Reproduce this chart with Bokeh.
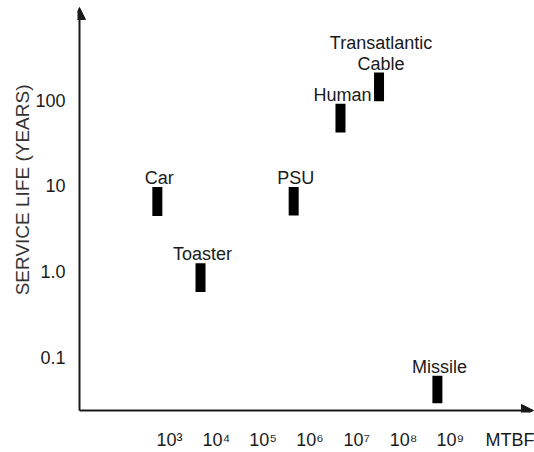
from bokeh.plotting import figure
from bokeh.models import FixedTicker, Arrow, NormalHead, ColumnDataSource, Range1d, Title
from bokeh.embed import file_html
from bokeh.resources import INLINE
from bokeh.core.properties import value

# ---- data ----
categories = ["Car", "Toaster", "PSU", "Human", "Transatlantic\nCable", "Missile"]
mtbf = [550, 4600, 4.5e5, 4.5e6, 3.0e7, 5.3e8]
life_low = [4.45, 0.58, 4.5, 42, 97, 0.029]
life_high = [9.7, 1.25, 9.7, 91, 210, 0.061]

x_tick_values = [10**3, 10**4, 10**5, 10**6, 10**7, 10**8, 10**9, 2.1e10]
x_tick_labels = ["10³", "10⁴", "10⁵", "10⁶", "10⁷", "10⁸", "10⁹", "MTBF"]
y_tick_values = [0.1, 1, 10, 100]
y_tick_labels = ["0.1", "1.0", "10", "100"]
y_title = "SERVICE LIFE (YEARS)"

FONT = "Liberation Sans"
INK = "#1a1a1a"

# layout of the (schematic) log-log frame
x_lo, x_hi = 10**1.0342, 10**10.799      # frame
y_lo, y_hi = 10**-1.6441, 10**3.1634
x_axis_pos = 10**1.0769                   # where the drawn axis lines sit
y_axis_pos = 10**-1.6208

p = figure(width=534, height=452, x_axis_type="log", y_axis_type="log",
           x_range=Range1d(x_lo, x_hi), y_range=Range1d(y_lo, y_hi),
           output_backend="svg", toolbar_location=None,
           min_border_left=77, min_border_bottom=40, min_border_top=0, min_border_right=0)
p.outline_line_color = None
p.grid.visible = False
p.background_fill_color = "white"
p.border_fill_color = "white"

for ax in (p.xaxis[0], p.yaxis[0]):
    ax.axis_line_color = None
    ax.major_tick_line_color = None
    ax.minor_tick_line_color = None
    ax.major_label_text_font = FONT
    ax.major_label_text_font_size = "18px"
    ax.major_label_text_color = INK

p.xaxis.ticker = FixedTicker(ticks=x_tick_values)
p.xaxis.major_label_overrides = dict(zip(x_tick_values, x_tick_labels))
p.xaxis.major_label_standoff = 11
p.yaxis.ticker = FixedTicker(ticks=y_tick_values)
p.yaxis.major_label_overrides = dict(zip(y_tick_values, y_tick_labels))
p.yaxis.major_label_standoff = 6

p.add_layout(Title(text=y_title, align="right", offset=84, text_font=FONT,
                   text_font_size="19px", text_font_style="normal",
                   text_color="#333333", standoff=0), "left")

# axis lines with arrow heads
p.add_layout(Arrow(end=NormalHead(size=12, fill_color=INK, line_color=INK),
                   x_start=x_axis_pos, y_start=y_axis_pos, x_end=x_axis_pos, y_end=10**3.0817,
                   line_color=INK, line_width=2))
p.add_layout(Arrow(end=NormalHead(size=12, fill_color=INK, line_color=INK),
                   x_start=x_axis_pos, y_start=y_axis_pos, x_end=10**10.778, y_end=y_axis_pos,
                   line_color=INK, line_width=2))

src = ColumnDataSource(dict(name=categories, x=mtbf, lo=life_low, hi=life_high))
p.segment(x0="x", y0="lo", x1="x", y1="hi", source=src,
          line_width=10, line_color="black", line_cap="butt")
p.text(x="x", y="hi", text="name", source=src, text_align="center",
       text_baseline="bottom", y_offset=1, x_offset=2,
       text_font=value(FONT), text_font_size="18px", text_color=INK,
       text_line_height=1.05)

open("out.html", "w").write(file_html(p, INLINE))
